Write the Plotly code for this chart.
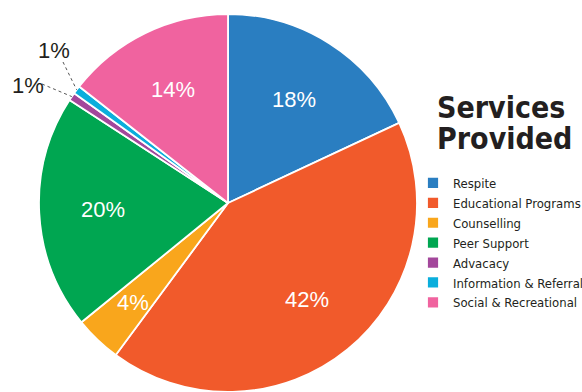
import numpy as np
import plotly.graph_objects as go

labels = ["Respite", "Educational Programs", "Counselling", "Peer Support",
          "Advacacy", "Information & Referral", "Social & Recreational"]
values = [18, 42, 4, 20, 0.7, 0.7, 14.4]
colors = ["#2a7ec1", "#f15a2b", "#f9a61c", "#00a651", "#a3479b", "#0aaedc", "#f0639f"]
title_lines = ["Services", "Provided"]

W, H = 582, 392
CX, CY, R = 228, 203, 189   # pie centre / radius in px (layout)
label_r = [0.65, 0.66, 0.725, 0.66, 0, 0, 0.67]   # label radius as fraction of R (style)

vals = np.array(values, dtype=float)
frac = vals / vals.sum()
small = frac < 0.02
mid = (np.cumsum(frac) - frac / 2) * 2 * np.pi

fig = go.Figure(go.Pie(
    labels=labels, values=values, sort=False, direction="clockwise", rotation=0,
    marker=dict(colors=colors, line=dict(color="white", width=1.8)),
    textinfo="none",
    domain=dict(x=[(CX - R) / W, (CX + R) / W], y=[(H - CY - R) / H, (H - CY + R) / H]),
    hoverinfo="label+percent",
))


def to_paper(px, py):
    return px / W, 1 - py / H


shapes, annotations = [], []
# inside labels, placed along each slice's mid-angle
for i in np.where(~small)[0]:
    r = label_r[i] * R
    x, y = to_paper(CX + r * np.sin(mid[i]), CY - r * np.cos(mid[i]))
    annotations.append(dict(text=f"{round(frac[i] * 100)}%", x=x, y=y,
                            xref="paper", yref="paper", showarrow=False,
                            xanchor="center", yanchor="middle",
                            font=dict(family="Liberation Sans", size=22, color="white")))

# external labels with dotted leader lines for tiny slices
label_px = {4: (28, 86), 5: (54, 51)}
line_start = {4: (42, 84), 5: (63, 62)}
for i in np.where(small)[0]:
    ex, ey = CX + R * np.sin(mid[i]), CY - R * np.cos(mid[i])
    sx, sy = line_start[i]
    x0, y0 = to_paper(sx, sy)
    x1, y1 = to_paper(ex, ey)
    shapes.append(dict(type="line", xref="paper", yref="paper",
                       x0=x0, y0=y0, x1=x1, y1=y1,
                       line=dict(color="#555555", width=1, dash="dot")))
    lx, ly = to_paper(*label_px[i])
    annotations.append(dict(text=f"{round(frac[i] * 100)}%", x=lx, y=ly,
                            xref="paper", yref="paper", showarrow=False,
                            xanchor="center", yanchor="middle",
                            font=dict(family="Liberation Sans", size=22, color="#231f20")))

for k, t in enumerate(title_lines):
    tx, ty = to_paper(435, 107 + 31 * k)
    annotations.append(dict(text=t, x=tx, y=ty, height=30, valign="middle",
                            xref="paper", yref="paper", showarrow=False,
                            xanchor="left", yanchor="middle",
                            font=dict(family="DejaVu Sans Condensed, Roboto", size=30,
                                      color="#231f20", weight="bold")))

fig.update_layout(
    width=W, height=H, margin=dict(l=0, r=0, t=0, b=0, autoexpand=False),
    paper_bgcolor="white", plot_bgcolor="white",
    showlegend=True,
    legend=dict(x=413 / W, y=1 - 168 / H, xanchor="left", yanchor="top",
                bgcolor="rgba(0,0,0,0)",
                font=dict(family="DejaVu Sans Condensed, Roboto", size=13,
                          color="#231f20"),
                itemclick=False, traceorder="normal"),
    shapes=shapes, annotations=annotations,
)

fig.write_html("out.html")
